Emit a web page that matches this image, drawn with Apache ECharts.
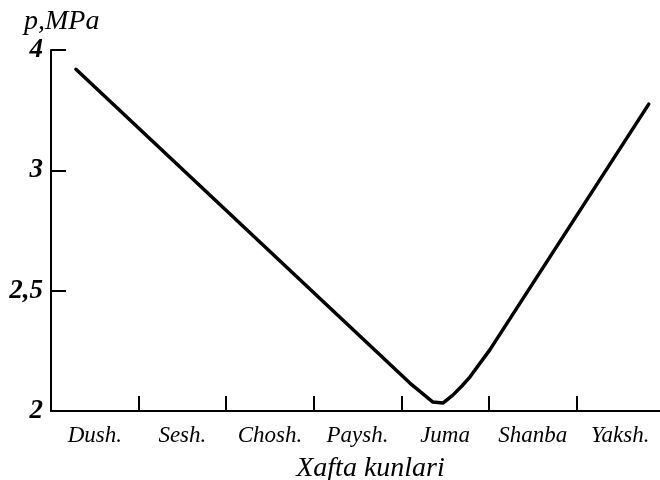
<!DOCTYPE html>
<html>
<head>
<meta charset="utf-8">
<script src="https://cdn.jsdelivr.net/npm/echarts@6/dist/echarts.min.js"></script>
<style>html,body{margin:0;padding:0;background:#fff;}#c{width:660px;height:480px;}</style>
</head>
<body>
<div id="c"></div>
<script>
// Days of the week (category axis)
var days = ['Dush.', 'Sesh.', 'Chosh.', 'Paysh.', 'Juma', 'Shanba', 'Yaksh.'];
// Y tick labels (equally spaced on the drawing)
var yTickValues = [2, 2.5, 3, 4];
var yTickLabels = ['2', '2,5', '3', '4'];
// Curve position along the week (in day units, 0 = start of Dush.)
var curveX = [0.285, 4.098, 4.247, 4.361, 4.475, 4.589, 4.692, 4.783, 5.011, 6.826];
// Pressure p, MPa
var curveP = [3.84, 2.116, 2.071, 2.037, 2.033, 2.066, 2.104, 2.141, 2.254, 3.55];

// map a pressure value onto the equally spaced tick positions (piecewise linear between ticks)
function toAxis(p) {
  for (var i = 0; i < yTickValues.length - 1; i++) {
    var a = yTickValues[i], b = yTickValues[i + 1];
    if (p <= b || i === yTickValues.length - 2) return i + (p - a) / (b - a);
  }
}
var lineData = curveX.map(function (x, i) { return [x, toAxis(curveP[i])]; });

var font = 'Liberation Serif';
var chart = echarts.init(document.getElementById('c'), null, {renderer: 'canvas'});
chart.setOption({
  animation: false,
  backgroundColor: '#fff',
  title: {
    text: 'p,MPa', left: 19, top: 3,
    textStyle: {fontFamily: font, fontStyle: 'italic', fontWeight: 'normal', fontSize: 28, color: '#000'}
  },
  grid: {left: 51, top: 50, width: 613, height: 361, outerBoundsMode: 'none', containLabel: false},
  xAxis: [{
    type: 'category', data: days, boundaryGap: true,
    axisLine: {show: true, lineStyle: {color: '#000', width: 2}},
    axisTick: {show: true, inside: true, length: 15, interval: 0, lineStyle: {color: '#000', width: 2}},
    axisLabel: {fontFamily: font, fontStyle: 'italic', fontSize: 23, color: '#000', margin: 13, interval: 0},
    name: 'Xafta kunlari', nameLocation: 'middle', nameGap: 44,
    nameTextStyle: {fontFamily: font, fontStyle: 'italic', fontSize: 28, color: '#000', padding: [0, 0, 0, 26]},
    splitLine: {show: false}
  }, {
    type: 'value', min: 0, max: 7, show: false
  }],
  yAxis: {
    type: 'value', min: 0, max: 3, interval: 1,
    axisLine: {show: true, lineStyle: {color: '#000', width: 2}},
    axisTick: {show: true, inside: true, length: 15, lineStyle: {color: '#000', width: 2}},
    axisLabel: {
      fontFamily: font, fontStyle: 'italic', fontWeight: 'bold', fontSize: 27, color: '#000', margin: 8,
      formatter: function (v) { return yTickLabels[Math.round(v)]; }
    },
    splitLine: {show: false}
  },
  series: [{
    type: 'line', xAxisIndex: 1, data: lineData, smooth: false,
    showSymbol: false, symbol: 'none',
    lineStyle: {color: '#000', width: 3.5, join: 'round', cap: 'round'}
  }]
});
</script>
</body>
</html>
